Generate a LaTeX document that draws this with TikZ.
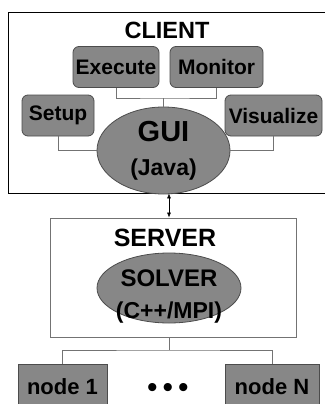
\documentclass[tikz,border=0pt]{standalone}
\usepackage{fontspec}
\setmainfont{Liberation Sans}
\usetikzlibrary{arrows.meta,shapes.geometric}

\definecolor{boxgray}{gray}{0.53}
\definecolor{edgegray}{gray}{0.3}
\definecolor{linegray}{gray}{0.45}

\begin{document}
\begin{tikzpicture}[x=1pt, y=-1pt,
    tool/.style={draw=edgegray, rounded corners=6pt, fill=boxgray, line width=0.8pt, inner sep=0pt, minimum height=41pt, font=\fontsize{21}{22}\selectfont\bfseries},
    core/.style={ellipse, draw=edgegray, fill=boxgray, line width=0.8pt, inner sep=0pt, align=center},
    host/.style={draw=edgegray, fill=boxgray, line width=0.8pt, inner sep=0pt, minimum height=46pt, font=\fontsize{22}{24}\selectfont\bfseries},
    frame/.style={draw, line width=0.8pt, inner sep=0pt},
    title/.style={font=\fontsize{23.5}{24}\selectfont\bfseries},
    link/.style={draw=linegray, line width=0.7pt}]
  \useasboundingbox[fill=white] (0,0) rectangle (324,404);

  \node[frame, minimum width=318pt, minimum height=181pt] (client) at (167,102.5) {};
  \node[title] (clienttitle) at (167,30) {CLIENT};
  \node[tool, minimum width=86pt] (execute) at (116,67) {Execute};
  \node[tool, minimum width=93pt] (monitor) at (216.5,67) {Monitor};
  \node[tool, minimum width=72pt] (setup) at (58,115.5) {Setup};
  \node[tool, minimum width=97pt] (visualize) at (273.5,115.5) {Visualize};
  \node[core, minimum width=133pt, minimum height=87pt, font=\fontsize{23}{34}\selectfont\bfseries] (gui) at (163.5,150.5)
    {{\fontsize{29}{34}\selectfont GUI}\\(Java)};
  \coordinate (hub) at (163.5,98);

  \draw[link] (execute.south) |- (hub) -| (monitor.south);
  \draw[link] (hub) -- (gui.north);
  \draw[link] (setup.south) |- (gui.west);
  \draw[link] (visualize.south) |- (gui.east);

  \node[frame, draw=linegray, minimum width=246pt, minimum height=119pt] (server) at (173,277.5) {};
  \node[title, font=\fontsize{25}{26}\selectfont\bfseries] (servertitle) at (165,238) {SERVER};
  \node[core, minimum width=144pt, minimum height=70pt] (solver) at (169,288) {};
  \node[align=center, font=\fontsize{23}{32}\selectfont\bfseries] (solvertext) at (169,297)
    {{\fontsize{24}{32}\selectfont SOLVER}\\(C++/MPI)};

  \draw[{Latex[length=5pt,width=4pt]}-{Latex[length=5pt,width=4pt]}, line width=0.6pt]
    (solver |- client.south) -- (solver |- server.north);

  \node[host, minimum width=89pt] (node1) at (62.5,387) {node 1};
  \node[host, minimum width=94pt] (nodeN) at (272,387) {node N};
  \node[font=\fontsize{30}{30}\selectfont] (dots) at (168,390) {•\hspace{5pt}•\hspace{5pt}•};
  \coordinate (split) at (169,350);

  \draw[link] (solver |- server.south) -- (split);
  \draw[link] (node1.north) |- (split) -| (nodeN.north);
\end{tikzpicture}
\end{document}
